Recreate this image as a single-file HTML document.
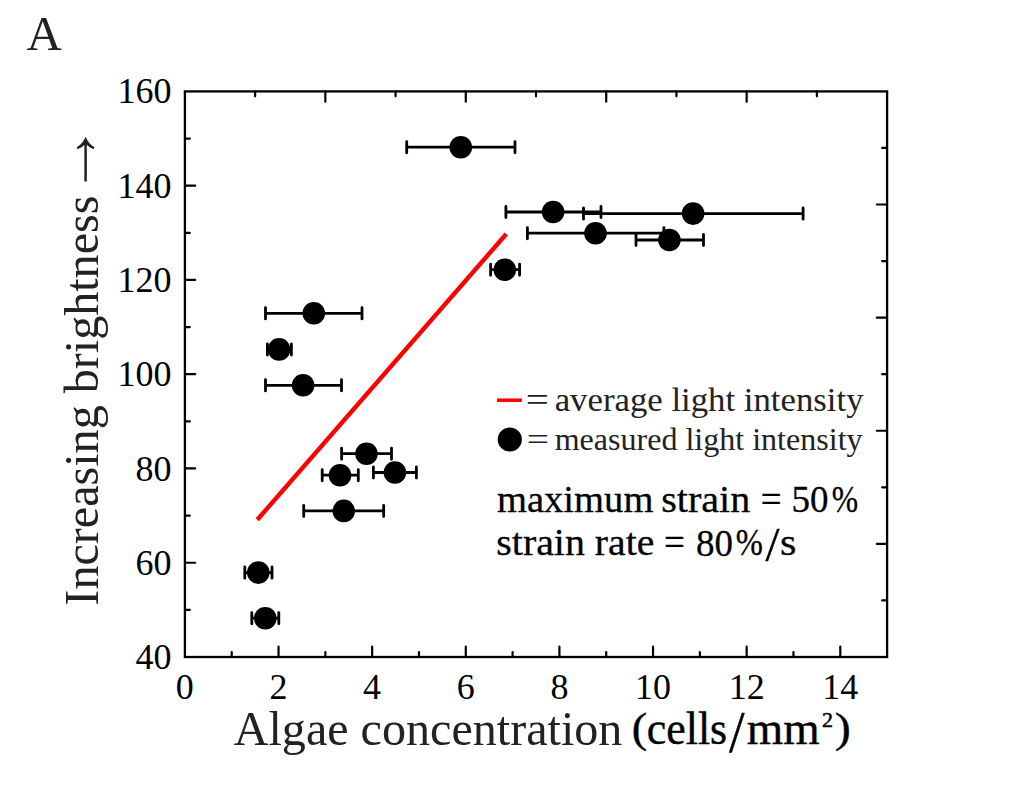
<!DOCTYPE html>
<html><head><meta charset="utf-8"><title>Chart</title>
<style>
html,body{margin:0;padding:0;background:#fff;overflow:hidden}
svg{display:block;position:absolute;left:0;top:0}
text{font-family:"Liberation Serif",serif;white-space:pre;font-kerning:none}
</style></head>
<body>
<svg width="1030" height="788" viewBox="0 0 1030 788" font-family="Liberation Serif, serif">
<rect x="0" y="0" width="1030" height="788" fill="#fff"/>
<rect x="184.9" y="91.4" width="702.20" height="565.60" fill="none" stroke="#000" stroke-width="2.3"/>
<path d="M231.71,657.0 v-4.9 M278.53,657.0 v-10.3 M325.34,657.0 v-4.9 M372.15,657.0 v-10.3 M418.97,657.0 v-4.9 M465.78,657.0 v-10.3 M512.59,657.0 v-4.9 M559.41,657.0 v-10.3 M606.22,657.0 v-4.9 M653.03,657.0 v-10.3 M699.85,657.0 v-4.9 M746.66,657.0 v-10.3 M793.47,657.0 v-4.9 M840.29,657.0 v-10.3 M184.9,609.87 h4.9 M184.9,562.73 h10.3 M184.9,515.60 h4.9 M184.9,468.47 h10.3 M184.9,421.33 h4.9 M184.9,374.20 h10.3 M184.9,327.07 h4.9 M184.9,279.93 h10.3 M184.9,232.80 h4.9 M184.9,185.67 h10.3 M184.9,138.53 h4.9 M255.12,91.4 v4.9 M325.34,91.4 v10.3 M395.56,91.4 v4.9 M465.78,91.4 v10.3 M536.00,91.4 v4.9 M606.22,91.4 v10.3 M676.44,91.4 v4.9 M746.66,91.4 v10.3 M816.88,91.4 v4.9 M887.1,147.96 h-4.9 M887.1,204.52 h-10.3 M887.1,261.08 h-4.9 M887.1,317.64 h-10.3 M887.1,374.20 h-4.9 M887.1,430.76 h-10.3 M887.1,487.32 h-4.9 M887.1,543.88 h-10.3 M887.1,600.44 h-4.9" stroke="#000" stroke-width="2.2" fill="none" stroke-linecap="round"/>
<line x1="257.3" y1="519.8" x2="506.25" y2="234.0" stroke="#ff0000" stroke-width="4.4"/>
<path d="M406.7,147.2 H515 M406.7,141.6 v11.2 M515,141.6 v11.2 M505.9,212.0 H601 M505.9,206.4 v11.2 M601,206.4 v11.2 M583.5,213.6 H803.1 M583.5,208.0 v11.2 M803.1,208.0 v11.2 M527.4,233.2 H663.9 M527.4,227.6 v11.2 M663.9,227.6 v11.2 M636,240.0 H703.5 M636,234.4 v11.2 M703.5,234.4 v11.2 M490.6,269.7 H519.6 M490.6,264.09999999999997 v11.2 M519.6,264.09999999999997 v11.2 M265.5,313.3 H362 M265.5,307.7 v11.2 M362,307.7 v11.2 M267.4,349.4 H291.4 M267.4,343.79999999999995 v11.2 M291.4,343.79999999999995 v11.2 M265.5,385.3 H341.5 M265.5,379.7 v11.2 M341.5,379.7 v11.2 M341.6,453.7 H391.5 M341.6,448.09999999999997 v11.2 M391.5,448.09999999999997 v11.2 M322.2,475.2 H358.3 M322.2,469.59999999999997 v11.2 M358.3,469.59999999999997 v11.2 M373.4,472.5 H416.4 M373.4,466.9 v11.2 M416.4,466.9 v11.2 M303.7,510.9 H383.65 M303.7,505.29999999999995 v11.2 M383.65,505.29999999999995 v11.2 M244.8,572.6 H272 M244.8,567.0 v11.2 M272,567.0 v11.2 M251.8,618.2 H278.8 M251.8,612.6 v11.2 M278.8,612.6 v11.2" stroke="#000" stroke-width="2.8" fill="none" stroke-linecap="round"/>
<circle cx="460.8" cy="147.2" r="11.3" fill="#000"/>
<circle cx="553.1" cy="212.0" r="11.3" fill="#000"/>
<circle cx="693.1" cy="213.6" r="11.3" fill="#000"/>
<circle cx="595.5" cy="233.2" r="11.3" fill="#000"/>
<circle cx="669.4" cy="240.0" r="11.3" fill="#000"/>
<circle cx="504.8" cy="269.7" r="11.3" fill="#000"/>
<circle cx="313.8" cy="313.3" r="11.3" fill="#000"/>
<circle cx="279.1" cy="349.4" r="11.3" fill="#000"/>
<circle cx="303.1" cy="385.3" r="11.3" fill="#000"/>
<circle cx="366.5" cy="453.7" r="11.3" fill="#000"/>
<circle cx="340" cy="475.2" r="11.3" fill="#000"/>
<circle cx="394.9" cy="472.5" r="11.3" fill="#000"/>
<circle cx="343.75" cy="510.9" r="11.3" fill="#000"/>
<circle cx="258.3" cy="572.6" r="11.3" fill="#000"/>
<circle cx="265.3" cy="618.2" r="11.3" fill="#000"/>
<line x1="497" y1="400.2" x2="521.9" y2="400.2" stroke="#ff0000" stroke-width="3.5"/>
<circle cx="509.8" cy="439.5" r="12.1" fill="#000"/>
<text transform="translate(525.66,410.50) scale(1.1863,1.0000)" font-size="34.6" fill="#222">=</text>
<text transform="translate(554.68,410.50) scale(1.0049,1.0000)" font-size="34.6" fill="#222">average light intensity</text>
<text transform="translate(526.73,449.80) scale(1.2204,1.0000)" font-size="32.4" fill="#222">=</text>
<text transform="translate(554.63,449.80) scale(0.9893,1.0000)" font-size="32.4" fill="#222">measured light intensity</text>
<text transform="translate(496.94,511.60) scale(1.0431,1.0000)" font-size="37" fill="#000" stroke="#000" stroke-width="0.29" stroke-linejoin="round">maximum</text>
<text transform="translate(661.20,511.60) scale(1.0846,1.0000)" font-size="37" fill="#000" stroke="#000" stroke-width="0.29" stroke-linejoin="round">strain</text>
<text x="771.25" y="511.6" font-size="37" fill="#000" text-anchor="middle" stroke="#000" stroke-width="0.29" stroke-linejoin="round">=</text>
<text x="791.5" y="512.4" font-size="37" fill="#000" stroke="#000" stroke-width="0.29" stroke-linejoin="round">50</text>
<text transform="translate(831.77,511.85) scale(0.3165,0.3760)" font-size="100" fill="#000" stroke="#000" stroke-width="0.87" stroke-linejoin="round">%</text>
<text transform="translate(496.32,554.60) scale(1.0771,1.0000)" font-size="37" fill="#000" stroke="#000" stroke-width="0.29" stroke-linejoin="round">strain</text>
<text transform="translate(594.86,554.60) scale(1.0707,1.0000)" font-size="37" fill="#000" stroke="#000" stroke-width="0.29" stroke-linejoin="round">rate</text>
<text x="674.5" y="554.6" font-size="37" fill="#000" text-anchor="middle" stroke="#000" stroke-width="0.29" stroke-linejoin="round">=</text>
<text x="696" y="555.6" font-size="37" fill="#000" stroke="#000" stroke-width="0.29" stroke-linejoin="round">80</text>
<text transform="translate(735.84,554.75) scale(0.3256,0.3775)" font-size="100" fill="#000" stroke="#000" stroke-width="0.85" stroke-linejoin="round">%</text>
<text transform="translate(765.45,561.47) scale(0.5039,0.4933)" font-size="100" fill="#000" stroke="#000" stroke-width="0.60" stroke-linejoin="round">/</text>
<text transform="translate(780.11,555.18) scale(0.4231,0.3826)" font-size="100" fill="#000" stroke="#000" stroke-width="0.74" stroke-linejoin="round">s</text>
<text x="26.4" y="50.2" font-size="49" fill="#222">A</text>
<text transform="translate(233.73,744.85) scale(0.9899,1.0000)" font-size="48.6" fill="#222">Algae concentration</text>
<text transform="translate(631.86,741.74) scale(0.4633,0.4114)" font-size="100" fill="#000" stroke="#000" stroke-width="0.91" stroke-linejoin="round">(</text>
<text transform="translate(646.83,744.30) scale(0.9330,1.0000)" font-size="47" fill="#000" stroke="#000" stroke-width="0.41" stroke-linejoin="round">cells</text>
<text transform="translate(728.90,751.62) scale(0.5615,0.5950)" font-size="100" fill="#000" stroke="#000" stroke-width="0.69" stroke-linejoin="round">/</text>
<text transform="translate(746.82,744.30) scale(0.9973,1.0000)" font-size="47" fill="#000" stroke="#000" stroke-width="0.40" stroke-linejoin="round">mm</text>
<text x="822" y="727" font-size="22" fill="#000" stroke="#000" stroke-width="0.5" stroke-linejoin="round">2</text>
<text transform="translate(834.74,741.74) scale(0.4828,0.4114)" font-size="100" fill="#000" stroke="#000" stroke-width="0.89" stroke-linejoin="round">)</text>
<text transform="translate(98.1,603.9) rotate(-90) translate(-1.74,0.00) scale(0.9920,1.0000)" font-size="48.5" fill="#222">Increasing brightness</text>
<path d="M85.6,136.8 C87.5,141.5 90.5,145 94.4,147.3 L93.7,149.3 C90.8,148.1 88.2,146.6 86.85,144.8 L86.85,181.4 L84.35,181.4 L84.35,144.8 C83,146.6 80.4,148.1 77.5,149.3 L76.8,147.3 C80.7,145 83.7,141.5 85.6,136.8 Z" fill="#222"/>
<text x="171.5" y="669" font-size="36" fill="#000" text-anchor="end">40</text>
<text x="171.5" y="574.7" font-size="36" fill="#000" text-anchor="end">60</text>
<text x="171.5" y="480.5" font-size="36" fill="#000" text-anchor="end">80</text>
<text x="171.5" y="386.2" font-size="36" fill="#000" text-anchor="end">100</text>
<text x="171.5" y="291.9" font-size="36" fill="#000" text-anchor="end">120</text>
<text x="171.5" y="197.7" font-size="36" fill="#000" text-anchor="end">140</text>
<text x="171.5" y="103.4" font-size="36" fill="#000" text-anchor="end">160</text>
<text x="184.65" y="699" font-size="36" fill="#000" text-anchor="middle">0</text>
<text x="278.5" y="699" font-size="36" fill="#000" text-anchor="middle">2</text>
<text x="372" y="699" font-size="36" fill="#000" text-anchor="middle">4</text>
<text x="465.8" y="699" font-size="36" fill="#000" text-anchor="middle">6</text>
<text x="559.4" y="699" font-size="36" fill="#000" text-anchor="middle">8</text>
<text x="653" y="699" font-size="36" fill="#000" text-anchor="middle">10</text>
<text x="746.7" y="699" font-size="36" fill="#000" text-anchor="middle">12</text>
<text x="840.3" y="699" font-size="36" fill="#000" text-anchor="middle">14</text>
</svg>
</body></html>
